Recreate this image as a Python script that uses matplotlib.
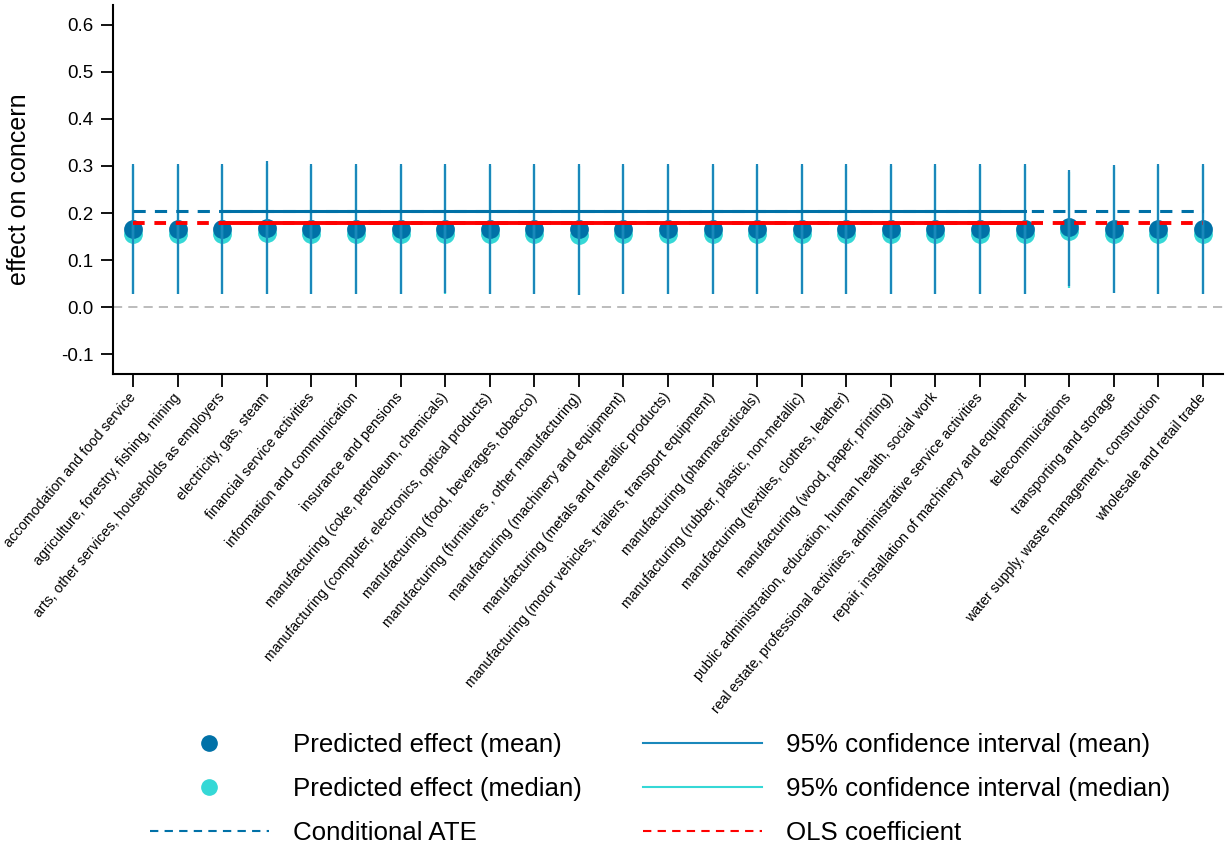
import matplotlib.pyplot as plt
from matplotlib.lines import Line2D

plt.rcParams['font.family'] = ['Liberation Sans', 'DejaVu Sans']

# sector names (x axis)
sectors = [
    "accomodation and food service",
    "agriculture, forestry, fishing, mining",
    "arts, other services, households as employers",
    "electricity, gas, steam",
    "financial service activities",
    "information and communication",
    "insurance and pensions",
    "manufacturing (coke, petroleum, chemicals)",
    "manufacturing (computer, electronics, optical products)",
    "manufacturing (food, beverages, tobacco)",
    "manufacturing (furnitures , other manufacturing)",
    "manufacturing (machinery and equipment)",
    "manufacturing (metals and metallic products)",
    "manufacturing (motor vehicles, trailers, transport equipment)",
    "manufacturing (pharmaceuticals)",
    "manufacturing (rubber, plastic, non-metallic)",
    "manufacturing (textiles, clothes, leather)",
    "manufacturing (wood, paper, printing)",
    "public administration, education, human health, social work",
    "real estate, professional activities, administrative service activities",
    "repair, installation of machinery and equipment",
    "telecommuications",
    "transporting and storage",
    "water supply, waste management, construction",
    "wholesale and retail trade",
]

# predicted effects
mean_eff = [0.166, 0.165, 0.166, 0.169, 0.165, 0.166, 0.165, 0.166, 0.165, 0.165,
            0.165, 0.166, 0.165, 0.165, 0.165, 0.165, 0.165, 0.165, 0.165, 0.165,
            0.166, 0.171, 0.165, 0.165, 0.166]
median_eff = [0.155, 0.155, 0.155, 0.158, 0.155, 0.156, 0.155, 0.155, 0.155, 0.155,
              0.154, 0.155, 0.155, 0.155, 0.155, 0.155, 0.155, 0.155, 0.155, 0.155,
              0.155, 0.161, 0.155, 0.155, 0.155]

# 95% confidence intervals
ci_mean_lo = [0.028, 0.028, 0.028, 0.028, 0.028, 0.028, 0.028, 0.029, 0.028, 0.028,
              0.026, 0.028, 0.028, 0.028, 0.028, 0.028, 0.028, 0.028, 0.028, 0.028,
              0.028, 0.045, 0.030, 0.028, 0.028]
ci_mean_hi = [0.304, 0.304, 0.304, 0.310, 0.304, 0.305, 0.304, 0.304, 0.305, 0.304,
              0.304, 0.304, 0.304, 0.304, 0.304, 0.304, 0.304, 0.304, 0.304, 0.304,
              0.304, 0.292, 0.302, 0.304, 0.304]
ci_med_lo = [0.027, 0.027, 0.027, 0.027, 0.027, 0.027, 0.027, 0.027, 0.027, 0.027,
             0.025, 0.027, 0.027, 0.027, 0.027, 0.027, 0.027, 0.027, 0.027, 0.027,
             0.027, 0.041, 0.029, 0.027, 0.027]
ci_med_hi = [0.300, 0.300, 0.300, 0.305, 0.300, 0.300, 0.300, 0.300, 0.300, 0.300,
             0.300, 0.300, 0.300, 0.300, 0.300, 0.300, 0.300, 0.300, 0.300, 0.300,
             0.300, 0.288, 0.298, 0.300, 0.300]

cate = 0.204
ols = 0.178

c_mean = '#0071a7'
c_med = '#35d8d6'
c_ci = '#1a88bb'

x = list(range(1, len(sectors) + 1))

fig = plt.figure(figsize=(12.25, 8.52), dpi=100)
ax = fig.add_axes([113 / 1225, 1 - 374 / 852, 1110 / 1225, 369 / 852])

ax.axhline(0, color='#aaaaaa', lw=1.1, ls=(0, (6, 4)), zorder=1)

# points
ax.plot(x, median_eff, 'o', color=c_med, ms=12.5, zorder=2)
ax.plot(x, mean_eff, 'o', color=c_mean, ms=12.5, zorder=3)

# confidence intervals
ax.vlines(x, ci_med_lo, ci_med_hi, color=c_med, lw=1.6, zorder=4)
ax.vlines(x, ci_mean_lo, ci_mean_hi, color=c_ci, lw=1.6, zorder=5)

# conditional ATE and OLS coefficient
ax.plot([x[0], x[-1]], [cate, cate], color=c_mean, lw=2.2, ls=(0, (4, 3)), zorder=6)
ax.plot([x[2], x[20]], [cate, cate], color=c_mean, lw=2.2, zorder=6)
ax.plot([x[0], x[-1]], [ols, ols], color='red', lw=2.8, ls=(0, (3, 2.5)), zorder=7)
ax.plot([x[2], x[20]], [ols, ols], color='red', lw=2.8, zorder=7)

ax.set_xlim(0.55, 25.45)
ax.set_ylim(-0.1425, 0.6425)
ax.set_yticks([-0.1, 0.0, 0.1, 0.2, 0.3, 0.4, 0.5, 0.6])
ax.set_yticklabels(['-0.1', '0.0', '0.1', '0.2', '0.3', '0.4', '0.5', '0.6'])
ax.set_xticks(x)
ax.set_xticklabels(sectors, rotation=50, ha='right', va='center',
                   rotation_mode='anchor', fontsize=10.2)
ax.set_ylabel('effect on concern', fontsize=18)
ax.yaxis.set_label_coords(-0.074, 0.5)

ax.tick_params(axis='y', labelsize=13.5, length=9, width=1.3, pad=5)
ax.tick_params(axis='x', length=9, width=1.3, pad=6)
for s in ['top', 'right']:
    ax.spines[s].set_visible(False)
for s in ['left', 'bottom']:
    ax.spines[s].set_linewidth(1.5)

# legend: two columns placed separately
h1 = [
    Line2D([], [], marker='o', ls='none', color=c_mean, ms=11),
    Line2D([], [], marker='o', ls='none', color=c_med, ms=11),
    Line2D([], [], color=c_mean, lw=1.5, ls=(0, (4, 3))),
]
l1 = ['Predicted effect (mean)', 'Predicted effect (median)', 'Conditional ATE']
h2 = [
    Line2D([], [], color=c_ci, lw=1.5),
    Line2D([], [], color=c_med, lw=1.5),
    Line2D([], [], color='red', lw=1.5, ls=(0, (4, 3))),
]
l2 = ['95% confidence interval (mean)', '95% confidence interval (median)', 'OLS coefficient']

leg_kw = dict(loc='upper left', frameon=False, fontsize=18.6, handlelength=4.6,
              handletextpad=0.95, labelspacing=0.77, borderpad=0, borderaxespad=0)
fig.legend(h1, l1, bbox_to_anchor=(150 / 1225, 1 - 733 / 852), **leg_kw)
fig.legend(h2, l2, bbox_to_anchor=(643 / 1225, 1 - 733 / 852), **leg_kw)

fig.savefig('out.png', dpi=100)
